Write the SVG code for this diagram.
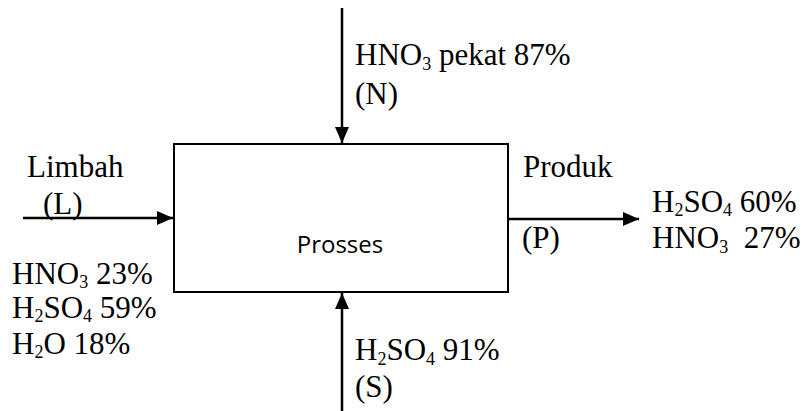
<svg xmlns="http://www.w3.org/2000/svg" width="807" height="411" viewBox="0 0 807 411">
  <style>
    .lbl { font-family: "Liberation Serif", "Times New Roman", serif; font-size: 31px; fill: #000; }
    .sub { font-size: 18px; }
    .box { fill: #fff; stroke: #000; stroke-width: 2; }
    .flow { stroke: #000; stroke-width: 2.5; fill: none; marker-end: url(#head); }
    .name { font-family: "Open Sans", "Liberation Sans", sans-serif; font-size: 24px; fill: #000; }
  </style>
  <defs>
    <marker id="head" markerUnits="userSpaceOnUse" markerWidth="16" markerHeight="14" refX="16" refY="7" orient="auto">
      <path d="M0,0 L16,7 L0,14 Z" fill="#000"/>
    </marker>
  </defs>
  <rect width="807" height="411" fill="#fff"/>

  <!-- process block -->
  <g id="prosses">
    <rect class="box" x="174" y="144" width="334" height="148"/>
    <text class="name" x="340" y="253" text-anchor="middle">Prosses</text>
  </g>

  <!-- streams -->
  <g id="connectors">
    <line class="flow" x1="23" y1="218" x2="173" y2="218"/>
    <line class="flow" x1="342" y1="8" x2="342" y2="143"/>
    <line class="flow" x1="342" y1="411" x2="342" y2="293"/>
    <line class="flow" x1="508" y1="219" x2="639" y2="219"/>
  </g>

  <!-- waste feed L -->
  <g id="limbah">
    <text class="lbl" x="27" y="177">Limbah</text>
    <text class="lbl" x="43" y="214">(L)</text>
    <text class="lbl" x="12" y="284">HNO<tspan class="sub" dy="4">3</tspan><tspan dy="-4"> 23%</tspan></text>
    <text class="lbl" x="12" y="318">H<tspan class="sub" dy="4">2</tspan><tspan dy="-4">SO</tspan><tspan class="sub" dy="4">4</tspan><tspan dy="-4"> 59%</tspan></text>
    <text class="lbl" x="12" y="354">H<tspan class="sub" dy="4">2</tspan><tspan dy="-4">O 18%</tspan></text>
  </g>

  <!-- nitric acid feed N -->
  <g id="feed-n">
    <text class="lbl" x="355" y="65">HNO<tspan class="sub" dy="5">3</tspan><tspan dy="-5"> pekat 87%</tspan></text>
    <text class="lbl" x="355" y="104">(N)</text>
  </g>

  <!-- sulfuric acid feed S -->
  <g id="feed-s">
    <text class="lbl" x="355" y="360">H<tspan class="sub" dy="5">2</tspan><tspan dy="-5">SO</tspan><tspan class="sub" dy="5">4</tspan><tspan dy="-5"> 91%</tspan></text>
    <text class="lbl" x="355" y="397">(S)</text>
  </g>

  <!-- product P -->
  <g id="produk">
    <text class="lbl" x="523" y="177">Produk</text>
    <text class="lbl" x="522" y="248">(P)</text>
    <text class="lbl" x="652" y="212">H<tspan class="sub" dy="4">2</tspan><tspan dy="-4">SO</tspan><tspan class="sub" dy="4">4</tspan><tspan dy="-4"> 60%</tspan></text>
    <text class="lbl" x="652" y="248" xml:space="preserve">HNO<tspan class="sub" dy="5">3</tspan><tspan dy="-5">  27%</tspan></text>
  </g>
</svg>
